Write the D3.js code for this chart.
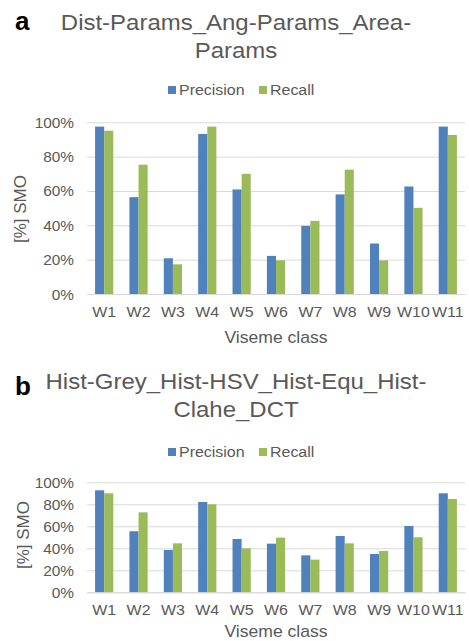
<!DOCTYPE html>
<html>
<head>
<meta charset="utf-8">
<script src="https://cdn.jsdelivr.net/npm/d3@7"></script>
<style>
  body { margin: 0; background: #fff; }
  text { font-family: "Liberation Sans", Arial, sans-serif; }
</style>
</head>
<body>
<div id="chart"></div>
<script>
const categories = ["W1", "W2", "W3", "W4", "W5", "W6", "W7", "W8", "W9", "W10", "W11"];
const seriesNames = ["Precision", "Recall"];
const seriesColors = ["#4F81BD", "#9BBB59"];
const yTicks = [0, 20, 40, 60, 80, 100];

// panel a
const precisionA = [97.5, 56.4, 20.8, 93.2, 60.9, 22.2, 39.7, 58.0, 29.4, 62.6, 97.5];
const recallA = [95.1, 75.3, 17.3, 97.5, 70.0, 19.6, 42.6, 72.4, 19.6, 50.2, 92.6];
// panel b
const precisionB = [92.7, 55.5, 38.5, 82.1, 48.5, 44.2, 33.6, 51.2, 34.8, 60.3, 90.0];
const recallB = [90.0, 72.7, 44.5, 80.0, 40.0, 49.7, 29.7, 44.5, 37.6, 50.0, 84.8];

const width = 469, height = 641;
const stretch = 1.1; // text in the picture is a bit wider than tall
const grey = "#595959";

const svg = d3.select("#chart").append("svg")
    .attr("width", width)
    .attr("height", height);

function stretchedText(g, x, y, str, size, anchor) {
    return g.append("text")
        .attr("transform", `translate(${x},${y}) scale(${stretch},1)`)
        .attr("text-anchor", anchor || "middle")
        .attr("font-size", size)
        .attr("fill", grey)
        .text(str);
}

function drawPanel(p) {
    const g = svg.append("g");

    // panel letter
    g.append("text")
        .attr("x", 15).attr("y", p.letterY)
        .attr("font-size", 26).attr("font-weight", "bold")
        .attr("fill", "#000")
        .text(p.letter);

    // title, two lines
    p.title.forEach((line, i) => {
        stretchedText(g, 236, p.titleY + i * 28, line, 21.8);
    });

    // legend
    const legend = g.append("g");
    seriesNames.forEach((name, i) => {
        const lx = i === 0 ? 168 : 259;
        legend.append("rect")
            .attr("x", lx).attr("y", p.legendY - 4)
            .attr("width", 8).attr("height", 8)
            .attr("fill", seriesColors[i]);
        stretchedText(legend, lx + 11, p.legendY + 5, name, 14.5, "start");
    });

    const x = d3.scaleBand()
        .domain(categories)
        .range([87, 465])
        .paddingInner(0.47)
        .paddingOuter(0.235);
    const xs = d3.scaleBand()
        .domain(seriesNames)
        .range([0, x.bandwidth()]);
    const y = d3.scaleLinear()
        .domain([0, 100])
        .range([p.bottom, p.top]);

    // gridlines + y labels
    const yAxis = g.append("g")
        .attr("transform", "translate(87,0)")
        .call(d3.axisLeft(y)
            .tickValues(yTicks)
            .tickSize(-(465 - 87))
            .tickFormat(d => d + "%"));
    yAxis.select(".domain").remove();
    yAxis.selectAll(".tick line").attr("stroke", "#D9D9D9");
    yAxis.selectAll(".tick text")
        .attr("x", null).attr("dy", null)
        .attr("transform", `translate(-13,5) scale(${stretch},1)`)
        .attr("font-size", 14)
        .attr("font-family", "Liberation Sans, Arial, sans-serif")
        .attr("fill", grey);

    // bars
    const rows = categories.map((c, i) => ({ cat: c, vals: [p.precision[i], p.recall[i]] }));
    g.append("g").selectAll("g")
        .data(rows)
        .join("g")
        .attr("transform", d => `translate(${x(d.cat)},0)`)
        .selectAll("rect")
        .data(d => d.vals.map((v, i) => ({ name: seriesNames[i], v: v, i: i })))
        .join("rect")
        .attr("x", d => xs(d.name))
        .attr("y", d => y(d.v))
        .attr("width", xs.bandwidth())
        .attr("height", d => y(0) - y(d.v))
        .attr("fill", d => seriesColors[d.i]);

    // x axis
    const xAxis = g.append("g")
        .attr("transform", `translate(0,${p.bottom})`)
        .call(d3.axisBottom(x).tickSize(0));
    xAxis.select(".domain").attr("stroke", "#D9D9D9");
    xAxis.selectAll(".tick text")
        .attr("y", null).attr("dy", null)
        .attr("transform", `translate(0,23) scale(${stretch},1)`)
        .attr("font-size", 14.5)
        .attr("font-family", "Liberation Sans, Arial, sans-serif")
        .attr("fill", grey);

    // axis titles
    stretchedText(g, 276, p.xTitleY, "Viseme class", 16);
    g.append("text")
        .attr("transform", `translate(${p.yTitleX},${p.yTitleY}) rotate(-90)`)
        .attr("text-anchor", "middle")
        .attr("font-size", 17)
        .attr("fill", grey)
        .text("[%] SMO");
}

drawPanel({
    letter: "a", letterY: 30,
    title: ["Dist-Params_Ang-Params_Area-", "Params"], titleY: 30,
    legendY: 90,
    top: 122.3, bottom: 294, xTitleY: 343,
    yTitleX: 26, yTitleY: 209,
    precision: precisionA, recall: recallA
});

drawPanel({
    letter: "b", letterY: 395,
    title: ["Hist-Grey_Hist-HSV_Hist-Equ_Hist-", "Clahe_DCT"], titleY: 389,
    legendY: 452,
    top: 482.3, bottom: 592.3, xTitleY: 637,
    yTitleX: 29, yTitleY: 535,
    precision: precisionB, recall: recallB
});
</script>
</body>
</html>
